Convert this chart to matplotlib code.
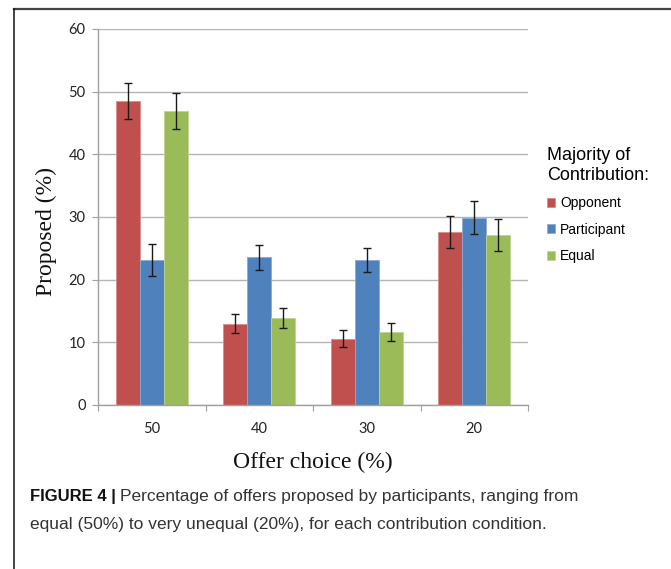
import matplotlib
matplotlib.use("Agg")
import matplotlib.pyplot as plt
from matplotlib.lines import Line2D
import numpy as np

# offer levels and proposal rates per contribution condition
offers = ["50", "40", "30", "20"]
groups = ["Opponent", "Participant", "Equal"]
opponent = [48.5, 13.0, 10.6, 27.6]
participant = [23.1, 23.6, 23.2, 29.9]
equal = [46.9, 13.9, 11.7, 27.1]
opponent_err = [2.9, 1.5, 1.35, 2.55]
participant_err = [2.55, 2.0, 1.9, 2.65]
equal_err = [2.9, 1.55, 1.45, 2.55]

colors = ["#C0504D", "#4F81BD", "#9BBB59"]
edges = ["#D98C8A", "#8AAAD4", "#BDD394"]

W, H = 671, 569
fig = plt.figure(figsize=(W / 100, H / 100), dpi=100)
ax = fig.add_axes([98 / W, 1 - 405 / H, 430 / W, 376 / H])

x = np.arange(len(offers))
width = 0.224
series = [(opponent, opponent_err), (participant, participant_err), (equal, equal_err)]
handles = []
for i, (vals, errs) in enumerate(series):
    pos = x + (i - 1) * width
    b = ax.bar(pos, vals, width, color=colors[i], edgecolor=edges[i],
               linewidth=0.6, zorder=2, label=groups[i])
    ax.errorbar(pos, vals, yerr=errs, fmt="none", ecolor="#1a1a1a",
                elinewidth=1.0, capsize=2.6, capthick=1.0, zorder=3)
    handles.append(b)

ax.set_xlim(-0.5, 3.5)
ax.set_ylim(0, 60)
ax.set_yticks(range(0, 61, 10))
ax.yaxis.grid(True, color="#b5b5b5", linewidth=1.0, zorder=0)
ax.set_axisbelow(True)

ax.set_xticks(np.arange(-0.5, 4, 1))
ax.set_xticklabels([])
ax.set_xticks(x, minor=True)
ax.set_xticklabels(offers, minor=True)
ax.tick_params(axis="x", which="major", direction="out", length=4, color="#a0a0a0")
ax.tick_params(axis="x", which="minor", length=0, pad=12)
ax.tick_params(axis="y", direction="out", length=4, color="#a0a0a0", pad=5)
for lab in ax.get_xticklabels(minor=True) + ax.get_yticklabels():
    lab.set_fontfamily("Lato")
    lab.set_fontsize(10.5)
    lab.set_color("#222222")

for s in ["top", "right"]:
    ax.spines[s].set_visible(False)
for s in ["left", "bottom"]:
    ax.spines[s].set_color("#a0a0a0")
    ax.spines[s].set_linewidth(1.0)

fig.text(46 / W, 1 - 231 / H, "Proposed (%)", rotation=90, ha="center", va="center",
         fontfamily="Liberation Serif", fontsize=17, color="#111111")
fig.text(313 / W, 1 - 462 / H, "Offer choice (%)", ha="center", va="center",
         fontfamily="Liberation Serif", fontsize=17, color="#111111")

leg = fig.legend(handles=handles, loc="upper left", bbox_to_anchor=(547 / W, 1 - 147 / H),
                 title="Majority of\nContribution:", frameon=False,
                 prop={"family": "Liberation Sans", "size": 10},
                 handlelength=0.6, handleheight=0.6, handletextpad=0.35,
                 labelspacing=0.9, borderaxespad=0, borderpad=0)
leg.get_title().set_fontfamily("Liberation Sans")
leg.get_title().set_fontsize(13)
leg._legend_box.align = "left"

# page frame: rule on top and left
fig.add_artist(Line2D([14 / W, 1], [1 - 8.5 / H, 1 - 8.5 / H], color="#444444", linewidth=1.6))
fig.add_artist(Line2D([14 / W, 14 / W], [0, 1 - 8.5 / H], color="#111111", linewidth=1.1))

t1 = fig.text(30 / W, 1 - 497 / H, "FIGURE 4 |", fontfamily="Liberation Sans",
              fontweight="bold", fontsize=12, color="#111111", va="center")
fig.canvas.draw()
bb = t1.get_window_extent()
fig.text((bb.x1 + 4) / W, 1 - 497 / H,
         "Percentage of offers proposed by participants, ranging from",
         fontfamily="Liberation Sans", fontsize=12.5, color="#333333", va="center")
fig.text(30 / W, 1 - 525 / H,
         "equal (50%) to very unequal (20%), for each contribution condition.",
         fontfamily="Liberation Sans", fontsize=12.5, color="#333333", va="center")

fig.savefig("out.png", dpi=100)
